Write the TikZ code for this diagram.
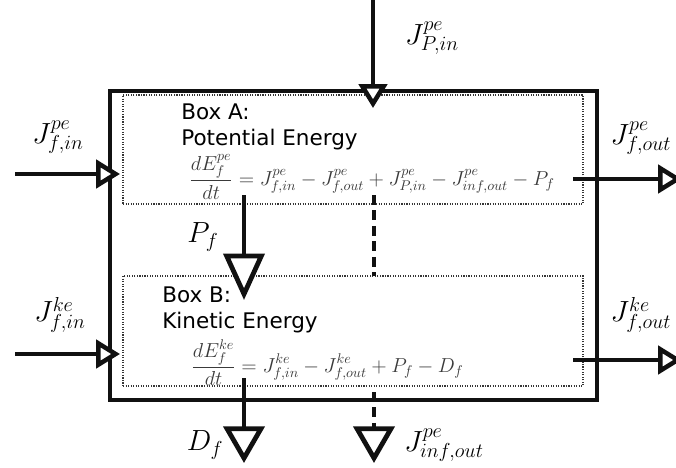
\documentclass[tikz,border=0pt]{standalone}
\usepackage{fontspec}
\setsansfont{DejaVu Sans}
\definecolor{bxInk}{HTML}{111111}
\definecolor{bxEq}{HTML}{3A3A3A}
\usetikzlibrary{arrows.meta,fit,calc}

\begin{document}
\begin{tikzpicture}[
  x=0.025cm, y=-0.025cm,
  sysbox/.style={draw=bxInk,line width=3.2pt,inner sep=0pt},
  subbox/.style={draw=bxInk!85,densely dotted,line width=0.8pt,inner sep=0pt},
  title/.style={font=\sffamily\fontsize{15.3}{18.5}\selectfont,align=left,anchor=north west,inner sep=0pt},
  eqn/.style={text=bxEq,font=\fontsize{14}{16}\selectfont,anchor=west,inner sep=0pt},
  lab/.style={font=\fontsize{21}{23}\selectfont,inner sep=0pt},
  flow/.style={draw=bxInk,line width=2.7pt,
               -{Triangle[open,fill=white,length=17pt,width=20pt,line width=3.2pt]}},
  bigflow/.style={draw=bxInk,line width=2.7pt,
               -{Triangle[open,fill=white,length=#1,width=29pt,line width=3.4pt]}},
  loss/.style={bigflow=#1,dash pattern=on 7pt off 4pt}
]
\useasboundingbox (0,0) rectangle (676,467);
% system and the two energy boxes
\node[sysbox,fit={(110,91) (597,400)}] (sys) {};
\node[subbox,fit={(123,95) (583,204)}] (boxA) {};
\node[subbox,fit={(123,276) (583,386)}] (boxB) {};
\node[title] (titleA) at (181,104) {Box A:\\Potential Energy};
\node[title] (titleB) at (162,287) {Box B:\\Kinetic Energy};
\node[eqn] (eqA) at (189,177) {$\displaystyle\frac{dE^{pe}_f}{dt} = J^{pe}_{f,in} - J^{pe}_{f,out} + J^{pe}_{P,in} - J^{pe}_{inf,out} - P_f$};
\node[eqn] (eqB) at (191,363) {$\displaystyle\frac{dE^{ke}_f}{dt} = J^{ke}_{f,in} - J^{ke}_{f,out} + P_f - D_f$};
% flux ends
\coordinate (pinS) at (373,0);
\coordinate (pinE) at (373,108);
\foreach \b/\yi/\yo in {A/174/179,B/354/360}{
  \coordinate (in\b S) at (15,\yi);
  \coordinate (in\b E) at (120,\yi);
  \coordinate (out\b S) at (573,\yo);
  \coordinate (out\b E) at (682,\yo);
  \draw[flow] (in\b S) -- (in\b E);
  \draw[flow] (out\b S) -- (out\b E);
}
\coordinate (pfS) at (244,195);
\coordinate (pfE) at (244,300);
\coordinate (dfS) at (244,378);
\coordinate (dfE) at (244,463);
\coordinate (lkS) at (374,195);
\coordinate (lkE) at (374,276);
\coordinate (ifS) at (374,392);
\coordinate (ifE) at (374,463);
\draw[flow] (pinS) -- (pinE);
\draw[bigflow=33pt] (pfS) -- (pfE);
\draw[bigflow=26pt] (dfS) -- (dfE);
\draw[draw=bxInk,line width=2.7pt,dash pattern=on 7pt off 4pt] (lkS) -- (lkE);
\draw[loss=26pt] (ifS) -- (ifE);
% labels
\node[lab] (lPin) at (432,38) {$J^{pe}_{P,in}$};
\node[lab] (lAin) at (58,137) {$J^{pe}_{f,in}$};
\node[lab] (lAout) at (641,138) {$J^{pe}_{f,out}$};
\node[lab] (lBin) at (60,315) {$J^{ke}_{f,in}$};
\node[lab] (lBout) at (641,315) {$J^{ke}_{f,out}$};
\node[lab] (lPf) at (203,237) {$P_f$};
\node[lab] (lDf) at (205,445) {$D_f$};
\node[lab] (lInf) at (444,445) {$J^{pe}_{inf,out}$};
\end{tikzpicture}
\end{document}
